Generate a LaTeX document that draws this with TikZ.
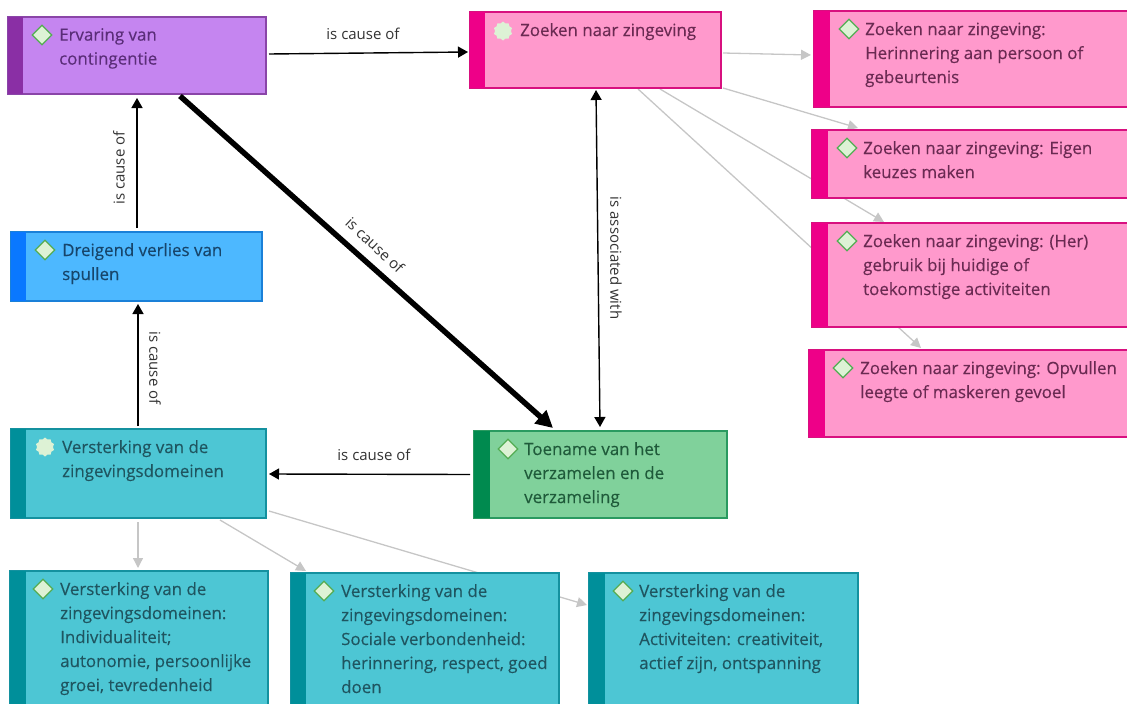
\documentclass[tikz,border=0pt]{standalone}
\usepackage{fontspec}
\setmainfont{Open Sans}
\newfontfamily\boxfont[FakeBold=0.25]{Open Sans}
\usetikzlibrary{arrows.meta,shapes.geometric,calc,backgrounds}
\definecolor{pfill}{HTML}{C585F0}\definecolor{pline}{HTML}{8A45A8}\definecolor{pstr}{HTML}{8A2FA5}\definecolor{ptxt}{HTML}{5A2D78}
\definecolor{rfill}{HTML}{FF99CC}\definecolor{rline}{HTML}{D8107F}\definecolor{rstr}{HTML}{EE0088}\definecolor{rtxt}{HTML}{6A2A52}
\definecolor{bfill}{HTML}{4DB8FF}\definecolor{bline}{HTML}{1A80D8}\definecolor{bstr}{HTML}{0A78FF}\definecolor{btxt}{HTML}{17456B}
\definecolor{tfill}{HTML}{4DC6D4}\definecolor{tline}{HTML}{14919F}\definecolor{tstr}{HTML}{008F9A}\definecolor{ttxt}{HTML}{1F5560}
\definecolor{gfill}{HTML}{80D19B}\definecolor{gline}{HTML}{2A9A60}\definecolor{gstr}{HTML}{008A4F}\definecolor{gtxt}{HTML}{1F5A3A}
\definecolor{gconn}{HTML}{C6C6C6}
\definecolor{gbul}{HTML}{DDF2D5}
\tikzset{
  x=1pt,y=-1pt,
  boxbase/.style={rectangle,anchor=north west,inner sep=0pt,outer sep=0pt,line width=1.2pt},
  boxtext/.style={anchor=north west,inner sep=0pt,align=left,font=\boxfont\fontsize{16.9}{24}\selectfont},
  bullet/.style={diamond,draw=#1,fill=gbul,line width=1.2pt,inner sep=0pt,minimum width=20pt,minimum height=20pt},
  roundbullet/.style={star,star points=10,star point ratio=1.2,fill=gbul,draw=none,inner sep=0pt,minimum size=19pt},
  cause/.style={-{Triangle[length=10pt,width=11pt]},line width=1.4pt,black},
  both/.style={{Triangle[length=10pt,width=11pt]}-{Triangle[length=10pt,width=11pt]},line width=1.4pt,black},
  heavy/.style={-{Triangle[length=17pt,width=17pt]},line width=5.5pt,black},
  soft/.style={-{Triangle[length=10pt,width=10pt]},line width=1.3pt,gconn},
  lab/.style={font=\fontsize{15}{18}\selectfont,text=black!80,inner sep=1pt},
}
% name, x1, y1, x2, y2, stripe width, colour prefix, text offset x, text
\newcommand{\zbox}[9]{%
  \pgfmathsetlengthmacro{\zw}{#4-#2}\pgfmathsetlengthmacro{\zh}{#5-#3}%
  \node[boxbase,draw=#7line,fill=#7fill,minimum width=\zw,minimum height=\zh] (#1) at (#2,#3) {};
  \fill[#7str] (#1.north west) rectangle ($(#1.south west)+(#6,0)$);
  \node[boxtext,text=#7txt] (#1-t) at ($(#1.north west)+(#8,11)$) {#9};
}
\begin{document}
\begin{tikzpicture}
\useasboundingbox (0,0) rectangle (1127,704);
\clip (0,0) rectangle (1127,704);
\zbox{erv}{8}{17}{266}{94}{15}{p}{51}{Ervaring van\\contingentie}
\node[bullet=green!35!gray] (erv-b) at ($(erv.north west)+(34,18)$) {};
\zbox{zoek}{470}{12}{721}{88}{15}{r}{50}{Zoeken naar zingeving}
\node[roundbullet] (zoek-b) at ($(zoek.north west)+(33,19)$) {};
\zbox{h1}{814}{11}{1135}{107}{16}{r}{51}{Zoeken naar zingeving:\\Herinnering aan persoon of\\gebeurtenis}
\node[bullet=green!35!gray] (h1-b) at ($(h1.north west)+(35,18)$) {};
\zbox{h2}{812}{130}{1135}{198}{16}{r}{51}{Zoeken naar zingeving: Eigen\\keuzes maken}
\node[bullet=green!35!gray] (h2-b) at ($(h2.north west)+(35,18)$) {};
\zbox{h3}{812}{223}{1135}{327}{16}{r}{51}{Zoeken naar zingeving: (Her)\\gebruik bij huidige of\\toekomstige activiteiten}
\node[bullet=green!35!gray] (h3-b) at ($(h3.north west)+(35,18)$) {};
\zbox{h4}{809}{350}{1135}{437}{16}{r}{51}{Zoeken naar zingeving: Opvullen\\leegte of maskeren gevoel}
\node[bullet=green!35!gray] (h4-b) at ($(h4.north west)+(34,18)$) {};
\zbox{dre}{11}{232}{262}{301}{15}{b}{51}{Dreigend verlies van\\spullen}
\node[bullet=green!35!gray] (dre-b) at ($(dre.north west)+(34,18)$) {};
\zbox{ver}{11}{429}{266}{518}{15}{t}{51}{Versterking van de\\zingevingsdomeinen}
\node[roundbullet] (ver-b) at ($(ver.north west)+(34,18)$) {};
\zbox{toe}{474}{431}{727}{518}{16}{g}{50}{Toename van het\\verzamelen en de\\verzameling}
\node[bullet=green!35!gray] (toe-b) at ($(toe.north west)+(34,18)$) {};
\zbox{v1}{10}{571}{268}{708}{16}{t}{50}{Versterking van de\\zingevingsdomeinen:\\Individualiteit;\\autonomie, persoonlijke\\groei, tevredenheid}
\node[bullet=green!35!gray] (v1-b) at ($(v1.north west)+(33,18)$) {};
\zbox{v2}{291}{573}{559}{708}{15}{t}{50}{Versterking van de\\zingevingsdomeinen:\\Sociale verbondenheid:\\herinnering, respect, goed\\doen}
\node[bullet=green!35!gray] (v2-b) at ($(v2.north west)+(33,18)$) {};
\zbox{v3}{589}{573}{858}{708}{16}{t}{50}{Versterking van de\\zingevingsdomeinen:\\Activiteiten: creativiteit,\\actief zijn, ontspanning}
\node[bullet=green!35!gray] (v3-b) at ($(v3.north west)+(34,18)$) {};

\begin{scope}[on background layer]
\draw[soft] ($(zoek.north east)+(2,41)$) -- ($(h1.north west)+(-3,44)$);
\draw[soft] ($(zoek.south east)+(2,0)$) -- ($(h2.north west)+(46,-2)$);
\draw[soft] ($(zoek.south west)+(190,1)$) -- ($(h3.north west)+(72,-1)$);
\draw[soft] ($(zoek.south west)+(168,1)$) -- ($(h4.north west)+(112,-2)$);
\draw[soft] ($(ver.south west)+(127,4)$) -- ($(v1.north west)+(128,-3)$);
\draw[soft] ($(ver.south west)+(209,2)$) -- ($(v2.north west)+(15,-2)$);
\draw[soft] ($(ver.south east)+(3,-7)$) -- ($(v3.north west)+(-2,32)$);
\end{scope}

\draw[cause] ($(erv.north east)+(3,37)$) -- ($(zoek.north west)+(-2,40)$);
\draw[cause] ($(dre.north west)+(126,-4)$) -- ($(erv.south west)+(129,4)$);
\draw[cause] ($(ver.north west)+(127,-3)$) -- ($(dre.south west)+(127,3)$);
\draw[cause] ($(toe.west)+(-4,0)$) -- ($(ver.north east)+(3,45)$);
\draw[heavy] ($(erv.south west)+(172,2)$) -- ($(toe.north west)+(79,-3)$);
\draw[both] ($(zoek.south west)+(126,2)$) -- ($(toe.north west)+(126,-4)$);

\node[lab] (l1) at (363,34) {is cause of};
\node[lab,rotate=90] (l2) at (119,168) {is cause of};
\node[lab,rotate=-90] (l3) at (155,368) {is cause of};
\node[lab] (l4) at (374,455) {is cause of};
\node[lab,rotate=-43] (l5) at (375,245) {is cause of};
\node[lab,rotate=-90] (l6) at (616,258) {is associated with};
\end{tikzpicture}
\end{document}
